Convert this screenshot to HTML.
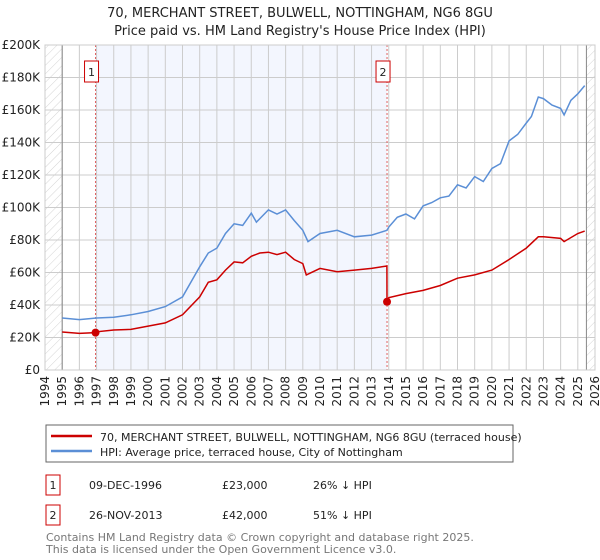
<!DOCTYPE html>
<html><head><meta charset="utf-8"><style>
body{margin:0;background:#fff;font-family:"DejaVu Sans","Liberation Sans",sans-serif;}
#wrap{position:relative;width:600px;height:560px;overflow:hidden;}
</style></head><body><div id="wrap">
<svg id="chart" width="600" height="560" xmlns="http://www.w3.org/2000/svg" font-family="DejaVu Sans, Liberation Sans, sans-serif">
<defs><pattern id="hatch" patternUnits="userSpaceOnUse" width="6" height="6" patternTransform="rotate(45)"><line x1="0" y1="0" x2="0" y2="6" stroke="#d4d4d4" stroke-width="1"/></pattern></defs>
<text x="300" y="17" text-anchor="middle" font-size="13" fill="#222">70, MERCHANT STREET, BULWELL, NOTTINGHAM, NG6 8GU</text>
<text x="300" y="35" text-anchor="middle" font-size="13" fill="#222">Price paid vs. HM Land Registry's House Price Index (HPI)</text>
<g id="grid"></g><g id="series"></g><g id="axes"></g>
<rect x="46" y="425" width="467" height="37" fill="#fff" stroke="#666"/>
<line x1="51" y1="436" x2="92" y2="436" stroke="#cc0000" stroke-width="2.5"/>
<text x="100" y="441" font-size="11" fill="#222">70, MERCHANT STREET, BULWELL, NOTTINGHAM, NG6 8GU (terraced house)</text>
<line x1="51" y1="451" x2="92" y2="451" stroke="#5b8fd6" stroke-width="2.5"/>
<text x="100" y="456" font-size="11" fill="#222">HPI: Average price, terraced house, City of Nottingham</text>
<rect x="46" y="475" width="14" height="20" fill="#fff" stroke="#c00"/>
<text x="53" y="489" text-anchor="middle" font-size="11" fill="#222">1</text>
<text x="89" y="489" font-size="11" fill="#222">09-DEC-1996</text>
<text x="222" y="489" font-size="11" fill="#222">£23,000</text>
<text x="313" y="489" font-size="11" fill="#222">26% ↓ HPI</text>
<rect x="46" y="505" width="14" height="20" fill="#fff" stroke="#c00"/>
<text x="53" y="519" text-anchor="middle" font-size="11" fill="#222">2</text>
<text x="89" y="519" font-size="11" fill="#222">26-NOV-2013</text>
<text x="222" y="519" font-size="11" fill="#222">£42,000</text>
<text x="313" y="519" font-size="11" fill="#222">51% ↓ HPI</text>
<text x="46" y="541" font-size="11" fill="#777">Contains HM Land Registry data © Crown copyright and database right 2025.</text>
<text x="46" y="553" font-size="11" fill="#777">This data is licensed under the Open Government Licence v3.0.</text>
</svg></div>
<script>
const hpiYears=[1995,1996,1997,1998,1999,2000,2001,2002,2003,2003.5,2004,2004.5,2005,2005.5,2006,2006.3,2007,2007.5,2008,2008.5,2009,2009.3,2010,2011,2012,2013,2013.9,2014,2014.5,2015,2015.5,2016,2016.5,2017,2017.5,2018,2018.5,2019,2019.5,2020,2020.5,2021,2021.5,2022,2022.3,2022.7,2023,2023.5,2024,2024.2,2024.6,2025,2025.4];
const hpiValues=[32,31,32,32.5,34,36,39,45,63.5,72,75,84,90,89,96.5,91,98.5,96,98.5,92,86,79,84,86,82,83,86,88,94,96,93,101,103,106,107,114,112,119,116,124,127,141,145,152,156,168,167,163,161,157,166,170,175];
const priceYears=[1995,1996,1996.94,1997,1998,1999,2000,2001,2002,2003,2003.5,2004,2004.5,2005,2005.5,2006,2006.5,2007,2007.5,2008,2008.5,2009,2009.2,2010,2011,2012,2013,2013.89,2013.9,2014,2015,2016,2017,2018,2019,2020,2021,2022,2022.7,2023,2024,2024.2,2025,2025.4];
const priceValues=[23.4,22.5,23,23.5,24.6,25,27,29,34,45,54,55.5,61.5,66.5,66,70,72,72.5,71,72.5,68,65.5,58.5,62.5,60.5,61.5,62.5,64,42,44.5,47,49,52,56.5,58.5,61.5,68,75,82,82,81,79,84,85.5];
const sales=[[1996.94,23],[2013.9,42]];
const yTicks=[0,20,40,60,80,100,120,140,160,180,200];
const yTickLabels=["£0","£20K","£40K","£60K","£80K","£100K","£120K","£140K","£160K","£180K","£200K"];
const xTicks=[1994,1995,1996,1997,1998,1999,2000,2001,2002,2003,2004,2005,2006,2007,2008,2009,2010,2011,2012,2013,2014,2015,2016,2017,2018,2019,2020,2021,2022,2023,2024,2025,2026];
const NS="http://www.w3.org/2000/svg";
const L=45,R=595,T=45,B=370;
function X(y){return L+(y-1994)/32*(R-L);}
function Y(v){return B-v/200*(B-T);}
function mk(p,tag,at){const e=document.createElementNS(NS,tag);for(const k in at)e.setAttribute(k,at[k]);p.appendChild(e);return e;}
const grid=document.getElementById('grid'),ser=document.getElementById('series'),ax=document.getElementById('axes');
let r=mk(grid,'rect',{x:X(1996.94),y:T,width:X(2013.9)-X(1996.94),height:B-T,fill:'#f3f6fe'});


r=mk(grid,'rect',{x:L,y:T,width:X(1995)-L,height:B-T,fill:'url(#hatch)'});


r=mk(grid,'rect',{x:X(2025.5),y:T,width:R-X(2025.5),height:B-T,fill:'url(#hatch)'});


yTicks.forEach((v,i)=>{
 const l=mk(grid,'line',{x1:L,x2:R,y1:Y(v),y2:Y(v),stroke:'#ccc'});
 
 
 const t=mk(ax,'text',{x:40,y:Y(v)+4,'text-anchor':'end','font-size':12,fill:'#222'});
 
 
 t.textContent=yTickLabels[i];
});
xTicks.forEach(yr=>{
 const l=mk(grid,'line',{x1:X(yr),x2:X(yr),y1:T,y2:B,stroke:'#ccc'});
 
 
 const t=mk(ax,'text',{x:0,y:0,'text-anchor':'end','font-size':12,fill:'#222',transform:`translate(${X(yr)+4},376) rotate(-90)`});
 
 
 t.textContent=yr;
});
[1995,2025.5].forEach(yr=>{const l=mk(grid,'line',{x1:X(yr),x2:X(yr),y1:T,y2:B,stroke:'#888'});
 
 });
sales.forEach((s,i)=>{
 const l=mk(grid,'line',{x1:X(s[0]),x2:X(s[0]),y1:T,y2:B,stroke:'#e06060','stroke-dasharray':'2,2'});
 
 
 const b=mk(ax,'rect',{x:X(s[0])-11,y:61,width:14,height:21,fill:'#fff',stroke:'#c00'});
 
 
 const t=mk(ax,'text',{x:X(s[0])-4,y:76,'text-anchor':'middle','font-size':11,fill:'#222'});
 
 
 t.textContent=i+1;
});
function path(xs,vs){return xs.map((x,i)=>(i?'L':'M')+X(x).toFixed(1)+','+Y(vs[i]).toFixed(1)).join('');}
let p=mk(ser,'path',{d:path(hpiYears,hpiValues),fill:'none',stroke:'#5b8fd6','stroke-width':1.5});


p=mk(ser,'path',{d:path(priceYears,priceValues),fill:'none',stroke:'#cc0000','stroke-width':1.5});


sales.forEach(s=>{const c=mk(ser,'circle',{cx:X(s[0]),cy:Y(s[1]),r:4,fill:'#cc0000'});
 
 });
const fr=mk(ax,'rect',{x:L,y:T,width:R-L,height:B-T,fill:'none',stroke:'#ccc'});


</script></body></html>
